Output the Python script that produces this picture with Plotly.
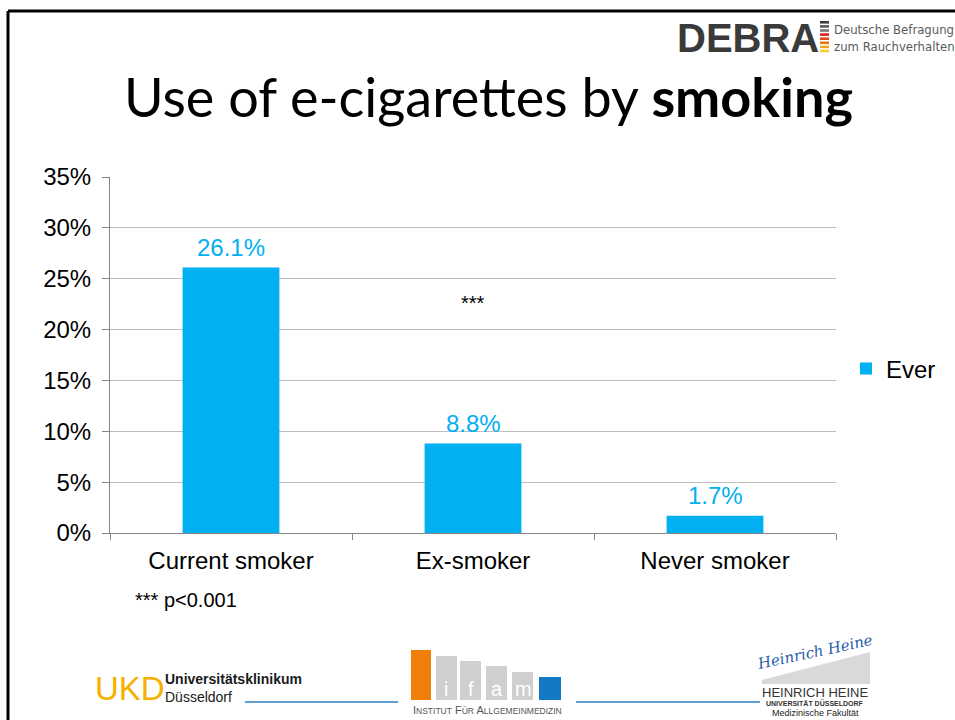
import plotly.graph_objects as go

categories = ["Current smoker", "Ex-smoker", "Never smoker"]
ever_values = [26.1, 8.8, 1.7]
value_labels = ["26.1%", "8.8%", "1.7%"]
series_name = "Ever"
y_ticks = [0, 5, 10, 15, 20, 25, 30, 35]

BAR = "#00B0F0"
AXIS_FONT = "Liberation Sans, Arial, sans-serif"

# plot area in pixels
L, R, T, B = 110, 836, 177, 533
W, H = 955, 720


def px(x):
    return (x - L) / (R - L)


def py(y):
    return (B - y) / (B - T)


fig = go.Figure()
fig.add_trace(go.Bar(
    x=categories, y=ever_values, name=series_name,
    marker=dict(color=BAR, line=dict(width=0)),
    width=0.4, showlegend=True,
))

annotations = []
for c, v, lab in zip(categories, ever_values, value_labels):
    annotations.append(dict(x=c, y=v, xref="x", yref="y", text=lab, showarrow=False,
                            yanchor="middle", yshift=20,
                            font=dict(family=AXIS_FONT, size=24, color=BAR)))

annotations.append(dict(x="Ex-smoker", y=22.6, xref="x", yref="y", text="***", showarrow=False,
                        font=dict(family=AXIS_FONT, size=20, color="#000000")))
annotations.append(dict(x=px(133), y=py(600), xref="paper", yref="paper", text="*** p<0.001",
                        showarrow=False, xanchor="left", yanchor="middle",
                        font=dict(family=AXIS_FONT, size=20, color="#000000")))

# title
annotations.append(dict(x=px(488), y=py(97), xref="paper", yref="paper",
                        text="Use of e-cigarettes by <b>smoking</b>", showarrow=False,
                        xanchor="center", yanchor="middle",
                        font=dict(family="Lato, Noto Sans, sans-serif", size=54, color="#000000")))

# DEBRA logo
annotations.append(dict(x=px(675), y=py(38), xref="paper", yref="paper", text="<b>DEBRA</b>",
                        showarrow=False, xanchor="left", yanchor="middle",
                        font=dict(family="Liberation Sans Narrow, Liberation Sans, Arial", size=40,
                                  color="#3A3A3A")))
annotations.append(dict(x=px(832), y=py(29), xref="paper", yref="paper", text="Deutsche Befragung",
                        showarrow=False, xanchor="left", yanchor="middle",
                        font=dict(family="DejaVu Sans Condensed, Liberation Sans Narrow, sans-serif",
                                  size=13, color="#5A5A5A")))
annotations.append(dict(x=px(832), y=py(46), xref="paper", yref="paper", text="zum Rauchverhalten",
                        showarrow=False, xanchor="left", yanchor="middle",
                        font=dict(family="DejaVu Sans Condensed, Liberation Sans Narrow, sans-serif",
                                  size=13, color="#5A5A5A")))

# UKD logo
annotations.append(dict(x=px(93), y=py(688), xref="paper", yref="paper", text="UKD",
                        showarrow=False, xanchor="left", yanchor="middle",
                        font=dict(family="Liberation Sans Narrow, Liberation Sans, sans-serif", size=33,
                                  color="#F5B000")))
annotations.append(dict(x=px(163), y=py(679), xref="paper", yref="paper", text="<b>Universitätsklinikum</b>",
                        showarrow=False, xanchor="left", yanchor="middle",
                        font=dict(family="Liberation Sans Narrow, Liberation Sans, sans-serif", size=14,
                                  color="#1A1A1A")))
annotations.append(dict(x=px(163), y=py(697), xref="paper", yref="paper", text="Düsseldorf",
                        showarrow=False, xanchor="left", yanchor="middle",
                        font=dict(family="Liberation Sans Narrow, Liberation Sans, sans-serif", size=14,
                                  color="#1A1A1A")))

# ifam letters
for lx, letter in [(446, "i"), (471, "f"), (497, "a"), (523, "m")]:
    annotations.append(dict(x=px(lx), y=py(689), xref="paper", yref="paper", text=letter,
                            showarrow=False, xanchor="center", yanchor="middle",
                            font=dict(family="Liberation Sans, sans-serif", size=20, color="#FFFFFF")))
annotations.append(dict(x=px(487), y=py(710), xref="paper", yref="paper",
                        text="I<span style='font-size:8.5px'>NSTITUT</span> F<span style='font-size:8.5px'>ÜR</span> A<span style='font-size:8.5px'>LLGEMEINMEDIZIN</span>",
                        showarrow=False, xanchor="center", yanchor="middle",
                        font=dict(family="Liberation Sans Narrow, Liberation Sans, sans-serif", size=11,
                                  color="#555555")))

# Heine logo
annotations.append(dict(x=px(815), y=py(652), xref="paper", yref="paper", text="<i>Heinrich Heine</i>",
                        showarrow=False, xanchor="center", yanchor="middle", textangle=-12,
                        font=dict(family="DejaVu Serif, serif", size=15, color="#2A5DA8")))
annotations.append(dict(x=px(815), y=py(692), xref="paper", yref="paper", text="HEINRICH HEINE",
                        showarrow=False, xanchor="center", yanchor="middle",
                        font=dict(family="Liberation Sans Narrow, Liberation Sans, sans-serif", size=13,
                                  color="#333333")))
annotations.append(dict(x=px(815), y=py(703), xref="paper", yref="paper", text="<b>UNIVERSITÄT DÜSSELDORF</b>",
                        showarrow=False, xanchor="center", yanchor="middle",
                        font=dict(family="Liberation Sans Narrow, Liberation Sans, sans-serif", size=7,
                                  color="#333333")))
annotations.append(dict(x=px(815), y=py(713), xref="paper", yref="paper", text="Medizinische Fakultät",
                        showarrow=False, xanchor="center", yanchor="middle",
                        font=dict(family="Liberation Sans Narrow, Liberation Sans, sans-serif", size=9,
                                  color="#222222")))

shapes = []


def rect(x0, y0, x1, y1, color):
    shapes.append(dict(type="rect", xref="paper", yref="paper", x0=px(x0), x1=px(x1),
                       y0=py(y1), y1=py(y0), fillcolor=color, line=dict(width=0), layer="above"))


def line(x0, y0, x1, y1, color, width):
    shapes.append(dict(type="line", xref="paper", yref="paper", x0=px(x0), x1=px(x1),
                       y0=py(y0), y1=py(y1), line=dict(color=color, width=width), layer="above"))


# slide border
line(8, 11, 8, 720, "#000000", 3)
line(8, 11, 955, 11, "#000000", 3)

# DEBRA flag stripes
stripe_colors = ["#3C3C3C", "#5A5A5A", "#7A7A7A", "#D8261C", "#E04A1C", "#E8731A", "#F2A81C", "#F8CC2C"]
for i, c in enumerate(stripe_colors):
    y0 = 21 + i * 4.1
    rect(820, y0, 829, y0 + 2.6, c)

# UKD blue line and ifam/heine line
line(245, 702, 398, 702, "#2F7FC1", 1.5)
line(576, 702, 760, 702, "#2F7FC1", 1.5)

# ifam bars
rect(411, 650, 431, 700, "#F07F0A")
for (x0, top) in [(436, 656), (460, 661), (486, 666), (512, 672)]:
    rect(x0, top, x0 + 21, 700, "#CFCFCF")
rect(539, 677, 561, 700, "#1479C4")

# Heine gray wedge
shapes.append(dict(type="path", xref="paper", yref="paper",
                   path="M {} {} L {} {} L {} {} L {} {} Z".format(px(762), py(684), px(870), py(684),
                                                                    px(870), py(652), px(762), py(680)),
                   fillcolor="#D9D9D9", line=dict(width=0), layer="below"))

fig.update_layout(
    width=W, height=H,
    margin=dict(l=L, r=W - R, t=T, b=H - B, pad=0),
    paper_bgcolor="#FFFFFF", plot_bgcolor="#FFFFFF",
    showlegend=True,
    legend=dict(x=px(846), y=py(369), xanchor="left", yanchor="middle",
                font=dict(family=AXIS_FONT, size=24, color="#000000"),
                bgcolor="rgba(0,0,0,0)", itemwidth=30, tracegroupgap=0),
    xaxis=dict(type="category", showgrid=False, showline=True, linecolor="#868686", linewidth=1,
               ticks="outside", tickson="boundaries", ticklen=6, tickcolor="#868686",
               tickfont=dict(family=AXIS_FONT, size=24, color="#000000"), ticklabelstandoff=6,
               fixedrange=True),
    yaxis=dict(range=[0, 35], tickvals=y_ticks, ticktext=[f"{t}%" for t in y_ticks],
               showgrid=True, gridcolor="#BEBEBE", gridwidth=1,
               showline=True, linecolor="#868686", linewidth=1,
               ticks="outside", ticklen=7, tickcolor="#868686",
               tickfont=dict(family=AXIS_FONT, size=24, color="#000000"), ticklabelstandoff=6,
               zeroline=False, fixedrange=True),
    annotations=annotations,
    shapes=shapes,
    bargap=0.6,
)

fig.write_html("out.html")
